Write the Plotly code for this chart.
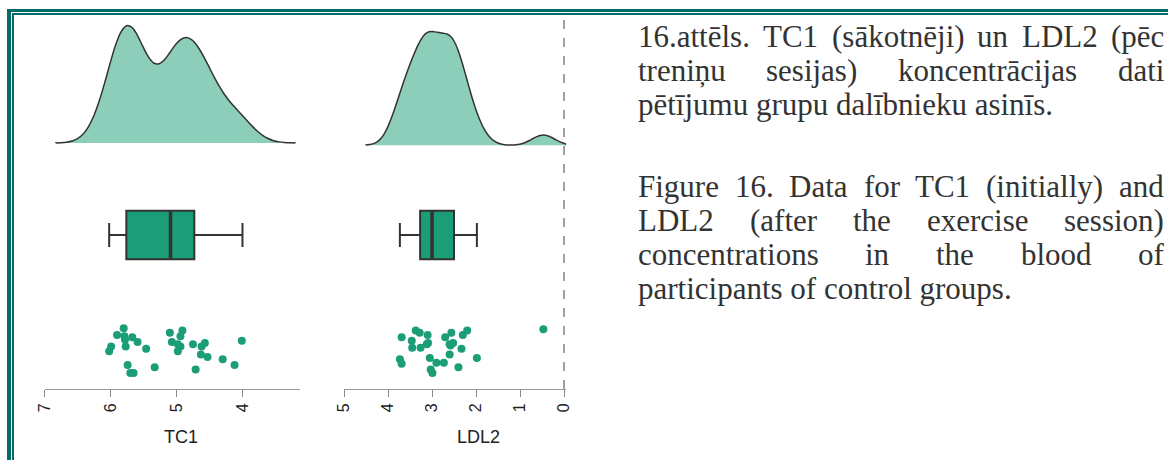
import plotly.graph_objects as go

# ---------------- data ----------------
tc1_values = [5.80, 5.90, 5.79, 5.78, 5.67, 5.59, 5.99, 6.02, 5.77, 5.46,
              5.74, 5.70, 5.65, 5.33, 5.10, 4.91, 4.94, 5.07, 4.98, 4.94,
              4.98, 4.75, 4.57, 4.62, 4.63, 4.53, 4.71, 4.30, 4.12, 4.01]
tc1_jitter = [0.19, 0.13, 0.12, 0.09, 0.11, 0.07, 0.03, -0.01, 0.03, 0.01,
              -0.13, -0.20, -0.20, -0.15, 0.15, 0.17, 0.12, 0.07, 0.05, 0.03,
              -0.01, 0.05, 0.06, 0.03, -0.04, -0.06, -0.17, -0.08, -0.13, 0.08]

ldl2_values = [3.69, 3.73, 3.69, 3.46, 3.45, 3.37, 3.28, 3.26, 3.10, 3.12,
               3.09, 3.05, 3.03, 2.99, 2.90, 2.73, 2.70, 2.56, 2.60, 2.52,
               2.58, 2.60, 2.40, 2.33, 2.30, 2.20, 1.98, 0.47]
ldl2_jitter = [0.11, -0.08, -0.12, 0.08, 0.02, 0.17, 0.15, 0.02, 0.13, 0.05,
               0.06, -0.07, -0.17, -0.20, -0.11, -0.11, 0.11, 0.15, 0.05, 0.06,
               0.04, -0.04, -0.15, 0.01, 0.13, 0.17, -0.07, 0.18]

tc1_box = dict(lowerfence=4.00, q1=4.73, median=5.09, q3=5.76, upperfence=6.02)
ldl2_box = dict(lowerfence=1.98, q1=2.50, median=3.00, q3=3.27, upperfence=3.73)

tc1_ticks = [7, 6, 5, 4]
ldl2_ticks = [5, 4, 3, 2, 1, 0]
axis_titles = ["TC1", "LDL2"]

caption_lv = ["16.attēls. TC1 (sākotnēji) un LDL2 (pēc",
              "treniņu sesijas) koncentrācijas dati",
              "pētījumu grupu dalībnieku asinīs."]
caption_en = ["Figure 16. Data for TC1 (initially) and",
              "LDL2 (after the exercise session)",
              "concentrations in the blood of",
              "participants of control groups."]

# ---------------- layout constants ----------------
W, H = 1168, 460
GREEN = "#1B9E77"
DENS_FILL = "rgba(27,158,119,0.5)"
DARK = "#333333"
TEAL = "#006B68"

PT_LEVEL, BOX_LEVEL, BOX_W = 0.0, 1.0, 0.42
DENS_BASE_TC1, DENS_BASE_LDL2 = 1.80, 1.78
Y_RANGE = [-0.339, 2.913]
Y_DOMAIN = [(H - 389) / H, (H - 15) / H]


def px(x):
    return x / W


def py(y):
    return 1 - y / H


fig = go.Figure()

# density (KDE computed by plotly violin)
fig.add_trace(go.Violin(
    x=tc1_values, y0=DENS_BASE_TC1, orientation="h", side="positive",
    bandwidth=0.25, spanmode="manual", span=[3.2, 6.83], width=2.04,
    points=False, box_visible=False, meanline_visible=False,
    fillcolor=DENS_FILL, line=dict(color=DARK, width=1.5),
    xaxis="x", yaxis="y", showlegend=False, hoverinfo="skip"))
fig.add_trace(go.Violin(
    x=ldl2_values, y0=DENS_BASE_LDL2, orientation="h", side="positive",
    bandwidth=0.257, spanmode="manual", span=[-0.045, 4.5], width=1.98,
    points=False, box_visible=False, meanline_visible=False,
    fillcolor=DENS_FILL, line=dict(color=DARK, width=1.5),
    xaxis="x2", yaxis="y2", showlegend=False, hoverinfo="skip"))

# boxes
for stats, xa, ya in [(tc1_box, "x", "y"), (ldl2_box, "x2", "y2")]:
    fig.add_trace(go.Box(
        y=[BOX_LEVEL], q1=[stats["q1"]], median=[stats["median"]],
        q3=[stats["q3"]], lowerfence=[stats["lowerfence"]],
        upperfence=[stats["upperfence"]], orientation="h",
        width=BOX_W, whiskerwidth=0.5, fillcolor=GREEN,
        line=dict(color=DARK, width=2), boxpoints=False,
        xaxis=xa, yaxis=ya, showlegend=False, hoverinfo="skip"))
    # thicker median stroke
    fig.add_trace(go.Scatter(
        x=[stats["median"], stats["median"]],
        y=[BOX_LEVEL - BOX_W / 2, BOX_LEVEL + BOX_W / 2],
        mode="lines", line=dict(color=DARK, width=3.5),
        xaxis=xa, yaxis=ya, showlegend=False, hoverinfo="skip"))

# jittered points
for vals, jit, xa, ya in [(tc1_values, tc1_jitter, "x", "y"),
                          (ldl2_values, ldl2_jitter, "x2", "y2")]:
    fig.add_trace(go.Scatter(
        x=vals, y=[PT_LEVEL + j for j in jit], mode="markers",
        marker=dict(color=GREEN, size=8, line=dict(width=0)),
        xaxis=xa, yaxis=ya, showlegend=False, hoverinfo="skip"))

axis_common = dict(showline=True, linecolor="#999999", linewidth=1,
                   ticks="outside", ticklen=7, tickcolor="#888888",
                   tickangle=-90, showgrid=False, zeroline=False,
                   automargin=False,
                   tickfont=dict(family="Liberation Sans", size=16, color="#222222"))
ycommon = dict(range=Y_RANGE, domain=Y_DOMAIN, visible=False,
               showgrid=False, zeroline=False)

fig.update_layout(
    width=W, height=H, margin=dict(l=0, r=0, t=0, b=0, autoexpand=False),
    paper_bgcolor="white", plot_bgcolor="rgba(0,0,0,0)",
    xaxis=dict(domain=[px(44.5), px(299.5)], range=[7, 3.136], anchor="y",
               tickvals=tc1_ticks, **axis_common),
    xaxis2=dict(domain=[px(344), px(566)], range=[5, -0.045], anchor="y2",
                tickvals=ldl2_ticks, **axis_common),
    yaxis=dict(anchor="x", **ycommon),
    yaxis2=dict(anchor="x2", **ycommon),
)

shapes = []
# dashed reference line at LDL2 = 0
shapes.append(dict(type="line", xref="x2", yref="y2", x0=0, x1=0,
                   y0=Y_RANGE[0], y1=Y_RANGE[1],
                   line=dict(color="#444444", width=1, dash="dash")))
# double teal frame (top and left)
shapes += [
    dict(type="rect", xref="paper", yref="paper", x0=px(7), x1=px(11),
         y0=0, y1=py(9), fillcolor=TEAL, line=dict(width=0)),
    dict(type="rect", xref="paper", yref="paper", x0=px(7), x1=1,
         y0=py(12), y1=py(9), fillcolor=TEAL, line=dict(width=0)),
    dict(type="rect", xref="paper", yref="paper", x0=px(12), x1=px(14),
         y0=0, y1=py(13), fillcolor=TEAL, line=dict(width=0)),
    dict(type="rect", xref="paper", yref="paper", x0=px(12), x1=1,
         y0=py(15), y1=py(13), fillcolor=TEAL, line=dict(width=0)),
]
fig.update_layout(shapes=shapes)

annotations = []
# axis titles
for txt, xc in zip(axis_titles, [181, 478]):
    annotations.append(dict(text=txt, xref="paper", yref="paper",
                            x=px(xc), y=py(437), showarrow=False,
                            xanchor="center", yanchor="middle",
                            font=dict(family="Liberation Sans", size=18, color="#222222")))

# caption text, justified word by word (Times metrics)
TNR = {" ": 250, ".": 250, "(": 333, ")": 333, "1": 500, "2": 500, "6": 500,
       "a": 444, "b": 500, "c": 444, "d": 500, "e": 444, "f": 333, "g": 500,
       "h": 500, "i": 278, "j": 278, "k": 500, "l": 278, "m": 778, "n": 500,
       "o": 500, "p": 500, "r": 333, "s": 389, "t": 278, "u": 500, "x": 500,
       "y": 500, "ā": 444, "ē": 444, "ī": 278, "ņ": 500, "C": 667, "D": 722,
       "F": 556, "L": 611, "T": 611}
FS = 31
X_LEFT, X_RIGHT = 637, 1163
TXT_COLOR = "#333333"


def wwidth(w):
    return sum(TNR.get(c, 500) for c in w) * FS / 1000


def add_paragraph(lines, y_first, step):
    for i, line in enumerate(lines):
        yc = y_first + i * step
        last = i == len(lines) - 1
        if last:
            annotations.append(dict(text=line, xref="paper", yref="paper",
                                    x=px(X_LEFT), y=py(yc), showarrow=False,
                                    xanchor="left", yanchor="middle", borderpad=0,
                                    font=dict(family="Liberation Serif", size=FS, color=TXT_COLOR)))
            continue
        words = line.split(" ")
        tot = sum(wwidth(w) for w in words)
        gap = (X_RIGHT - X_LEFT - tot) / (len(words) - 1)
        x = X_LEFT
        for w in words:
            annotations.append(dict(text=w, xref="paper", yref="paper",
                                    x=px(x), y=py(yc), showarrow=False,
                                    xanchor="left", yanchor="middle", borderpad=0,
                                    font=dict(family="Liberation Serif", size=FS, color=TXT_COLOR)))
            x += wwidth(w) + gap


add_paragraph(caption_lv, 36, 34)
add_paragraph(caption_en, 186, 34)

fig.update_layout(annotations=annotations)

fig.write_html("out.html")
